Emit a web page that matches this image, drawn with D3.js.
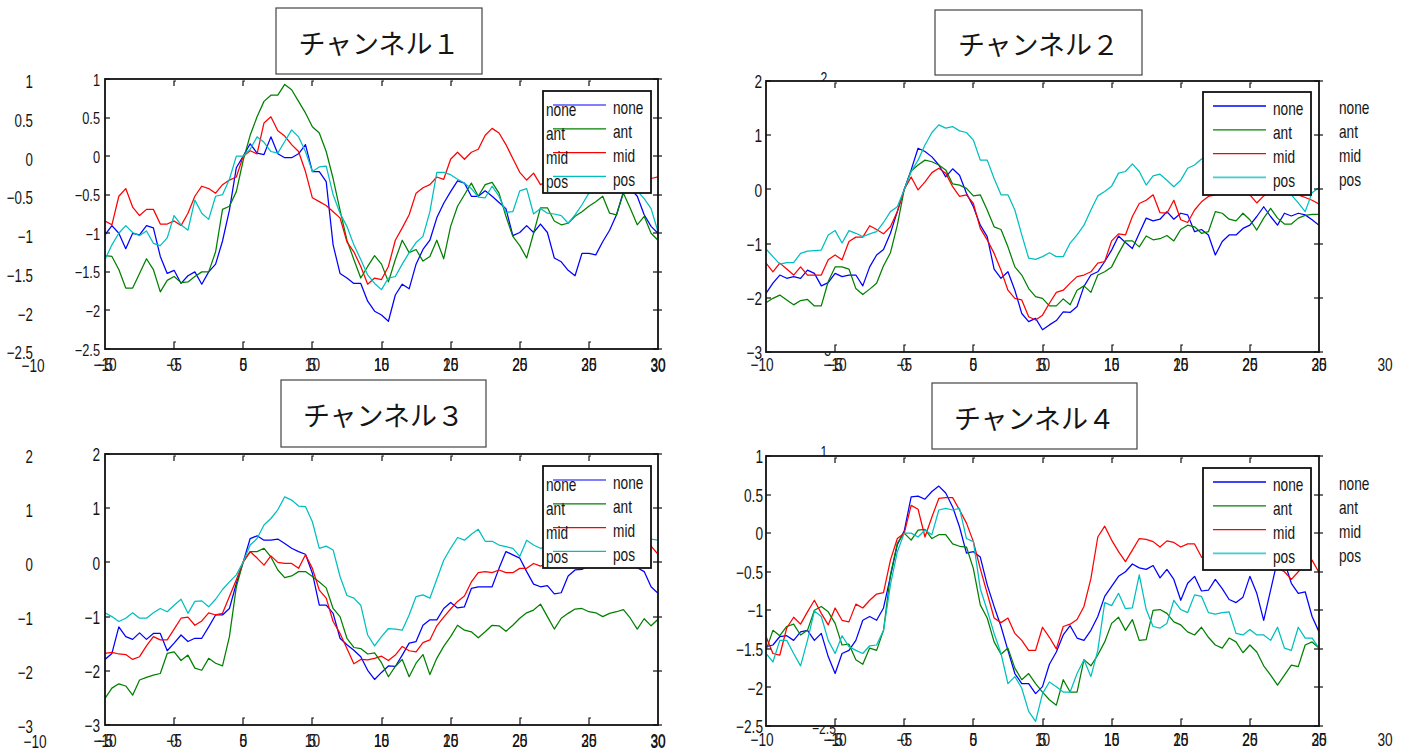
<!DOCTYPE html>
<html>
<head>
<meta charset="utf-8">
<script src="https://cdn.jsdelivr.net/npm/d3@7"></script>
<style>
  body { margin: 0; background: #fff; }
  text { font-family: "Liberation Sans", Arial, sans-serif; fill: #151515; }
  .title { font-family: "Noto Sans CJK JP", sans-serif; }
</style>
</head>
<body>
<svg id="chart" width="1413" height="755"></svg>
<script>
// ---- conditions and sampling ----
const conditions = ["none", "ant", "mid", "pos"];
const conditionColors = ["#0000ff", "#008000", "#ff0000", "#00bfbf"];
const sampleTimes = d3.range(-10, 30.25, 0.5); // 81 samples, -10 .. 30

// ---- channel 1 ----
const ch1None = [-1.02,-0.90,-1.00,-1.20,-1.00,-1.02,-0.90,-0.93,-1.30,-1.52,
  -1.48,-1.65,-1.55,-1.50,-1.66,-1.50,-1.40,-1.10,-0.70,-0.15,
  0.00,0.16,0.04,0.02,0.25,0.03,-0.02,-0.02,0.03,0.15,
  -0.20,-0.20,-0.33,-1.15,-1.52,-1.58,-1.65,-1.65,-1.88,-2.01,
  -2.06,-2.14,-1.80,-1.66,-1.72,-1.40,-1.21,-1.09,-0.80,-0.61,
  -0.46,-0.32,-0.35,-0.52,-0.52,-0.45,-0.52,-0.60,-0.68,-1.03,
  -0.99,-0.90,-0.99,-0.88,-0.99,-1.32,-1.37,-1.48,-1.55,-1.26,
  -1.26,-1.28,-1.11,-0.96,-0.76,-0.46,-0.42,-0.52,-0.76,-0.91,
  -1.00];
const ch1Ant = [-1.29,-1.30,-1.47,-1.71,-1.71,-1.52,-1.33,-1.47,-1.76,-1.61,
  -1.56,-1.64,-1.63,-1.56,-1.50,-1.50,-1.24,-0.69,-0.65,-0.46,
  -0.05,0.27,0.51,0.71,0.79,0.79,0.93,0.86,0.71,0.56,
  0.38,0.30,0.06,-0.29,-0.70,-1.09,-1.34,-1.58,-1.43,-1.29,
  -1.40,-1.63,-1.34,-1.09,-1.25,-1.21,-1.36,-1.30,-1.09,-1.33,
  -0.91,-0.65,-0.50,-0.35,-0.52,-0.37,-0.34,-0.48,-0.78,-1.04,
  -1.16,-1.32,-1.00,-0.67,-0.67,-0.84,-0.89,-0.87,-0.78,-0.72,
  -0.65,-0.59,-0.52,-0.74,-0.76,-0.48,-0.68,-0.89,-0.78,-1.00,
  -1.09];
const ch1Mid = [-0.84,-0.89,-0.52,-0.42,-0.66,-0.77,-0.69,-0.69,-0.88,-0.88,
  -0.84,-0.90,-0.74,-0.52,-0.39,-0.42,-0.48,-0.37,-0.31,-0.27,
  0.00,0.07,0.03,0.43,0.51,0.33,0.26,0.15,0.06,-0.20,
  -0.54,-0.59,-0.64,-0.72,-0.80,-1.11,-1.24,-1.43,-1.66,-1.58,
  -1.60,-1.43,-1.09,-0.93,-0.76,-0.48,-0.41,-0.37,-0.27,-0.30,
  -0.04,0.05,-0.04,0.05,0.09,0.27,0.36,0.30,0.15,-0.03,
  -0.21,-0.31,-0.22,-0.37,-0.32,-0.28,-0.33,-0.30,-0.25,-0.30,
  -0.28,-0.32,-0.27,-0.30,-0.25,-0.30,-0.28,-0.33,-0.30,-0.29,
  -0.27];
const ch1Pos = [-1.34,-1.15,-1.00,-0.90,-0.99,-1.03,-0.97,-1.13,-1.16,-1.06,
  -0.77,-0.89,-0.96,-0.57,-0.74,-0.82,-0.52,-0.50,-0.30,0.00,
  0.00,0.09,0.25,0.18,0.06,0.04,0.19,0.34,0.25,0.06,
  -0.20,-0.14,-0.13,-0.50,-0.74,-0.91,-1.15,-1.34,-1.54,-1.65,
  -1.73,-1.58,-1.56,-1.40,-1.25,-1.12,-1.04,-0.72,-0.21,-0.21,
  -0.24,-0.30,-0.35,-0.42,-0.53,-0.54,-0.39,-0.52,-0.73,-0.72,
  -0.45,-0.42,-0.75,-0.68,-0.74,-0.75,-0.77,-0.87,-0.76,-0.63,
  -0.48,-0.40,-0.35,-0.40,-0.45,-0.35,-0.30,-0.45,-0.55,-0.68,
  -0.98];

// ---- channel 2 ----
const ch2None = [-1.92,-1.73,-1.58,-1.64,-1.61,-1.64,-1.49,-1.55,-1.78,-1.72,
  -1.55,-1.61,-1.58,-1.58,-1.78,-1.43,-1.21,-1.11,-0.81,-0.41,
  0.00,0.36,0.76,0.70,0.60,0.45,0.23,0.38,0.26,-0.07,
  -0.32,-0.66,-0.87,-1.47,-1.64,-1.52,-1.86,-2.29,-2.44,-2.38,
  -2.59,-2.50,-2.42,-2.26,-2.27,-2.16,-1.79,-1.58,-1.52,-1.33,
  -1.12,-0.86,-0.98,-1.09,-0.81,-0.53,-0.58,-0.55,-0.41,-0.55,
  -0.44,-0.47,-0.78,-0.74,-0.84,-1.21,-0.96,-0.84,-0.84,-0.72,
  -0.66,-0.50,-0.32,-0.50,-0.66,-0.44,-0.49,-0.44,-0.47,-0.56,
  -0.66];
const ch2Ant = [-2.09,-2.01,-1.95,-2.04,-2.13,-2.05,-2.03,-2.15,-2.15,-1.70,
  -1.43,-1.43,-1.47,-1.83,-1.94,-1.84,-1.73,-1.41,-1.17,-0.66,
  0.00,0.34,0.45,0.54,0.51,0.45,0.36,0.10,0.08,0.02,
  -0.12,-0.10,-0.38,-0.69,-0.74,-1.06,-1.43,-1.58,-1.83,-1.98,
  -2.01,-2.15,-2.15,-2.02,-2.13,-1.86,-1.78,-1.90,-1.58,-1.52,
  -1.43,-1.18,-0.95,-0.95,-1.06,-0.86,-0.93,-0.91,-0.85,-0.95,
  -0.74,-0.66,-0.69,-0.81,-0.78,-0.41,-0.44,-0.55,-0.58,-0.44,
  -0.56,-0.75,-0.53,-0.35,-0.53,-0.64,-0.64,-0.53,-0.48,-0.46,
  -0.46];
const ch2Mid = [-1.36,-1.52,-1.36,-1.47,-1.58,-1.43,-1.58,-1.58,-1.58,-1.30,
  -1.21,-1.30,-0.96,-0.88,-0.88,-0.67,-0.74,-0.82,-0.69,-0.41,
  0.00,0.23,-0.01,0.14,0.31,0.39,0.30,0.05,-0.13,-0.10,
  -0.26,-0.72,-0.93,-1.18,-1.49,-1.86,-2.01,-2.04,-2.35,-2.41,
  -2.32,-2.10,-1.90,-1.86,-1.73,-1.61,-1.58,-1.52,-1.36,-1.33,
  -0.95,-0.82,-0.84,-0.50,-0.26,-0.20,-0.10,-0.43,-0.44,-0.20,
  -0.56,-0.61,-0.38,-0.23,-0.13,-0.10,-0.05,0.00,0.00,-0.05,
  -0.10,-0.25,-0.12,-0.05,0.00,-0.05,-0.10,-0.10,-0.15,-0.20,
  -0.27];
const ch2Pos = [-1.10,-1.24,-1.38,-1.35,-1.35,-1.18,-1.14,-1.13,-1.12,-0.84,
  -0.76,-0.99,-0.76,-0.81,-0.87,-0.82,-0.78,-0.61,-0.41,-0.32,
  0.00,0.33,0.54,0.82,1.05,1.19,1.13,1.16,1.08,1.05,
  0.91,0.54,0.54,0.20,-0.10,-0.10,-0.38,-0.84,-1.27,-1.29,
  -1.24,-1.17,-1.24,-1.24,-0.99,-0.84,-0.66,-0.38,-0.12,-0.04,
  0.06,0.30,0.33,0.47,0.33,0.08,0.25,0.28,0.17,0.05,
  0.17,0.39,0.45,0.56,0.60,0.62,0.58,0.50,0.55,0.60,
  0.50,0.42,0.35,0.25,0.15,0.05,-0.10,-0.25,-0.41,-0.06,
  0.03];

// ---- channel 3 ----
const ch3None = [-1.79,-1.68,-1.19,-1.37,-1.42,-1.30,-1.42,-1.31,-1.31,-1.63,
  -1.49,-1.34,-1.46,-1.40,-1.40,-1.19,-0.97,-0.97,-0.85,-0.39,
  0.01,0.44,0.49,0.41,0.41,0.43,0.35,0.26,0.20,0.15,
  -0.20,-0.79,-0.79,-0.94,-1.40,-1.52,-1.62,-1.74,-1.99,-2.16,
  -2.03,-1.91,-1.92,-1.71,-1.49,-1.46,-1.16,-1.06,-1.06,-0.85,
  -0.74,-0.84,-0.82,-0.48,-0.45,-0.45,-0.45,-0.11,0.20,0.14,
  0.08,-0.17,-0.40,-0.45,-0.43,-0.58,-0.56,-0.25,-0.14,-0.13,
  -0.05,0.00,0.05,0.10,0.05,0.00,-0.05,-0.10,-0.17,-0.45,
  -0.57];
const ch3Ant = [-2.51,-2.32,-2.24,-2.28,-2.45,-2.17,-2.12,-2.08,-2.05,-1.68,
  -1.65,-1.81,-1.71,-1.95,-1.99,-1.77,-1.86,-1.91,-1.37,-0.45,
  0.01,0.20,0.20,0.26,0.10,-0.14,-0.28,-0.25,-0.17,-0.17,
  -0.26,-0.36,-0.47,-0.85,-1.00,-1.40,-1.57,-1.59,-1.69,-1.67,
  -1.85,-2.11,-1.92,-1.79,-2.11,-1.86,-1.70,-2.07,-1.77,-1.55,
  -1.37,-1.16,-1.25,-1.28,-1.39,-1.28,-1.16,-1.17,-1.27,-1.16,
  -1.03,-0.93,-0.88,-0.77,-1.00,-1.23,-1.03,-0.94,-0.86,-0.85,
  -0.91,-0.93,-1.00,-0.94,-0.91,-0.87,-1.03,-1.23,-1.04,-1.17,
  -1.05];
const ch3Mid = [-1.68,-1.66,-1.69,-1.70,-1.79,-1.74,-1.54,-1.37,-1.43,-1.43,
  -1.23,-1.03,-1.01,-1.16,-1.08,-0.93,-0.97,-0.94,-0.63,-0.32,
  0.01,0.20,0.08,-0.05,0.12,0.00,-0.02,-0.02,-0.11,0.14,
  -0.11,-0.51,-0.66,-1.09,-1.31,-1.59,-1.87,-1.79,-1.80,-1.77,
  -1.73,-1.81,-1.71,-1.55,-1.63,-1.65,-1.48,-1.43,-1.17,-1.01,
  -0.86,-0.72,-0.62,-0.36,-0.19,-0.17,-0.19,-0.14,-0.19,-0.19,
  -0.11,-0.11,-0.02,-0.07,-0.02,0.00,0.00,0.05,0.05,0.05,
  0.10,0.10,0.15,0.15,0.20,0.25,0.30,0.40,0.45,0.30,
  0.15];
const ch3Pos = [-0.93,-1.00,-1.09,-1.03,-0.93,-1.03,-1.03,-0.93,-0.85,-0.91,
  -0.79,-0.68,-0.94,-0.72,-0.71,-0.82,-0.68,-0.50,-0.36,-0.23,
  0.01,0.32,0.44,0.69,0.81,0.97,1.21,1.15,1.04,1.03,
  0.75,0.26,0.30,0.23,-0.26,-0.61,-0.66,-0.79,-1.34,-1.54,
  -1.37,-1.22,-1.23,-1.25,-0.97,-0.63,-0.60,-0.66,-0.31,0.04,
  0.26,0.46,0.41,0.52,0.61,0.39,0.39,0.32,0.29,0.26,
  0.11,0.41,0.32,0.26,0.30,0.35,0.40,0.45,0.45,0.50,
  0.50,0.50,0.45,0.45,0.45,0.45,0.45,0.45,0.45,0.43,
  0.41];

// ---- channel 4 ----
const ch4None = [-1.47,-1.45,-1.34,-1.33,-1.39,-1.28,-1.26,-1.39,-1.30,-1.60,
  -1.82,-1.56,-1.52,-1.39,-1.13,-1.08,-1.13,-0.97,-0.56,-0.15,
  0.03,0.47,0.48,0.44,0.54,0.61,0.52,0.34,0.08,-0.26,
  -0.24,-0.31,-0.67,-0.95,-1.21,-1.52,-1.82,-1.95,-1.95,-2.08,
  -1.99,-1.70,-1.54,-1.32,-1.20,-1.36,-1.39,-1.26,-1.08,-0.82,
  -0.69,-0.56,-0.50,-0.40,-0.45,-0.47,-0.42,-0.58,-0.47,-0.60,
  -0.87,-0.65,-0.56,-0.75,-0.74,-0.60,-0.72,-0.86,-0.90,-0.83,
  -0.56,-0.78,-1.13,-0.74,-0.35,-0.37,-0.65,-0.78,-0.76,-1.08,
  -1.28];
const ch4Ant = [-1.52,-1.26,-1.33,-1.21,-1.18,-1.32,-1.26,-1.00,-0.95,-1.02,
  -1.17,-1.45,-1.44,-1.64,-1.70,-1.49,-1.52,-1.26,-0.54,-0.13,
  0.00,-0.09,0.04,0.05,-0.07,-0.02,-0.02,-0.14,-0.17,-0.18,
  -0.46,-0.93,-1.10,-1.41,-1.57,-1.49,-1.75,-1.90,-1.82,-1.95,
  -2.06,-2.16,-2.23,-1.90,-2.06,-2.06,-1.64,-1.72,-1.58,-1.41,
  -1.17,-1.09,-1.26,-1.12,-1.39,-1.38,-1.00,-0.99,-1.04,-1.15,
  -1.19,-1.28,-1.32,-1.22,-1.35,-1.45,-1.49,-1.36,-1.41,-1.55,
  -1.45,-1.54,-1.72,-1.84,-1.97,-1.84,-1.71,-1.73,-1.45,-1.41,
  -1.49];
const ch4Mid = [-1.34,-1.56,-1.58,-1.23,-1.09,-1.18,-1.02,-0.87,-1.04,-1.19,
  -0.97,-1.13,-1.15,-0.92,-0.97,-0.87,-0.79,-0.77,-0.35,-0.07,
  0.00,0.36,0.31,-0.05,0.21,0.45,0.46,0.46,0.30,0.13,
  -0.11,-0.46,-0.78,-1.10,-1.16,-1.10,-1.30,-1.39,-1.52,-1.52,
  -1.22,-1.35,-1.50,-1.21,-1.18,-1.12,-0.95,-0.59,-0.05,0.09,
  -0.09,-0.24,-0.37,-0.22,-0.07,-0.08,-0.11,-0.18,-0.10,-0.12,
  -0.18,-0.14,-0.14,-0.31,-0.35,-0.40,-0.38,-0.35,-0.30,-0.35,
  -0.40,-0.35,-0.30,-0.38,-0.45,-0.50,-0.60,-0.50,-0.40,-0.35,
  -0.51];
const ch4Pos = [-1.56,-1.67,-1.39,-1.39,-1.56,-1.72,-1.39,-1.01,-1.08,-1.39,
  -1.56,-1.33,-1.47,-1.52,-1.56,-1.46,-1.45,-1.26,-0.67,-0.24,
  0.00,0.00,-0.05,0.04,-0.02,0.30,0.32,0.30,0.32,-0.07,
  -0.11,-0.72,-1.00,-1.30,-1.56,-1.95,-1.86,-2.01,-2.31,-2.44,
  -2.08,-1.93,-1.99,-2.06,-2.06,-1.82,-1.64,-1.86,-1.52,-0.90,
  -0.94,-0.78,-0.98,-0.97,-0.54,-0.99,-1.21,-1.23,-1.17,-0.87,
  -0.99,-1.03,-0.80,-0.82,-1.03,-1.05,-1.03,-1.02,-1.30,-1.32,
  -1.25,-1.32,-1.32,-1.39,-1.22,-1.49,-1.52,-1.22,-1.36,-1.36,
  -1.49];

// ---- tick labels ----
const yTicksCh1 = [-2.5, -2, -1.5, -1, -0.5, 0, 0.5, 1];
const yTicksCh2 = [-3, -2, -1, 0, 1, 2];
const yTicksCh3 = [-3, -2, -1, 0, 1, 2];
const yTicksCh4 = [-2.5, -2, -1.5, -1, -0.5, 0, 0.5, 1];
const xTicksMain = [-10, -5, 0, 5, 10, 15, 20, 25, 30];
const xTicksShift = [-5, 0, 5, 10, 15, 20, 25, 30];
const xTicksLag = [-10, -5, 0, 5, 10, 15, 20, 25];
const xOuterEnds = [-10, 30];
const titles = ["チャンネル１", "チャンネル２", "チャンネル３", "チャンネル４"];

// ---- layout of the four figure panels ----
const panels = [
  { title: titles[0], series: [ch1None, ch1Ant, ch1Mid, ch1Pos], yTicks: yTicksCh1,
    box: { left: 105, right: 658, top: 79, bottom: 349 },
    titleBox: { x: 276, y: 8, w: 206, h: 66 },
    legend: { x: 543, y: 91, w: 108, h: 102 }, right: false,
    yLab: { x: 100, fs: 16, sx: 0.8 },
    outerY: { x: 33, top: 82, bottom: 353 },
    xSets: [{ ticks: xTicksMain, domain: [-10, 30] }, { ticks: xTicksShift, domain: [-5, 35] }],
    xLabelY: 365, outerX: { left: 33, right: 658, y: 366 } },
  { title: titles[1], series: [ch2None, ch2Ant, ch2Mid, ch2Pos], yTicks: yTicksCh2,
    box: { left: 766, right: 1319, top: 81, bottom: 352 },
    titleBox: { x: 935, y: 10, w: 207, h: 65 },
    legend: { x: 1203, y: 92, w: 108, h: 103 }, right: true,
    yLab: { x: 762, fs: 18, sx: 0.76 },
    ghostY: { x: 824, top: 78, bottom: 350 },
    xSets: [{ ticks: xTicksShift, domain: [-10, 30] }, { ticks: xTicksLag, domain: [-15, 25] }],
    xLabelY: 365, outerX: { left: 762, right: 1385, y: 365 } },
  { title: titles[2], series: [ch3None, ch3Ant, ch3Mid, ch3Pos], yTicks: yTicksCh3,
    box: { left: 105, right: 658, top: 454, bottom: 725 },
    titleBox: { x: 281, y: 380, w: 205, h: 67 },
    legend: { x: 543, y: 466, w: 108, h: 102 }, right: false,
    yLab: { x: 100, fs: 18, sx: 0.76 },
    outerY: { x: 33, top: 457, bottom: 727 },
    xSets: [{ ticks: xTicksMain, domain: [-10, 30] }, { ticks: xTicksShift, domain: [-5, 35] }],
    xLabelY: 741, outerX: { left: 35, right: 658, y: 742 } },
  { title: titles[3], series: [ch4None, ch4Ant, ch4Mid, ch4Pos], yTicks: yTicksCh4,
    box: { left: 766, right: 1319, top: 456, bottom: 726 },
    titleBox: { x: 932, y: 383, w: 205, h: 66 },
    legend: { x: 1203, y: 468, w: 108, h: 102 }, right: true,
    yLab: { x: 763, fs: 18, sx: 0.76 },
    ghostY: { x: 824, top: 452, bottom: 728 },
    ghostTitleDigit: { x: 1132, y: 434, text: "4" },
    xSets: [{ ticks: xTicksShift, domain: [-10, 30] }, { ticks: xTicksLag, domain: [-15, 25] }],
    xLabelY: 740, outerX: { left: 762, right: 1385, y: 740 } }
];

const svg = d3.select("#chart");
const fmt = d3.format("");

function label(g, x, y, str, o = {}) {
  return g.append("text")
    .attr("transform", `translate(${x},${y}) scale(${o.sx ?? 0.76},1)`)
    .attr("text-anchor", o.anchor || "middle")
    .attr("dominant-baseline", "central")
    .style("font-size", (o.fs || 18) + "px")
    .text(str);
}

panels.forEach((p, pi) => {
  const g = svg.append("g");
  const b = p.box;
  const yMin = d3.min(p.yTicks), yMax = d3.max(p.yTicks);
  const x = d3.scaleLinear().domain([-10, 30]).range([b.left, b.right]);
  const y = d3.scaleLinear().domain([yMin, yMax]).range([b.bottom, b.top]);

  // faint leftover axis labels peeking around the plot frame
  if (p.ghostY) {
    const gy = d3.scaleLinear().domain([yMin, yMax]).range([p.ghostY.bottom, p.ghostY.top]);
    [yMin, yMax].forEach(v => label(g, p.ghostY.x, gy(v), fmt(v), { fs: 16, sx: 0.76 }));
  }
  if (p.ghostTitleDigit) {
    const d = p.ghostTitleDigit;
    label(g, d.x, d.y, d.text, { fs: 17, sx: 0.8 });
  }

  // plot background
  g.append("rect").attr("x", b.left).attr("y", b.top)
    .attr("width", b.right - b.left).attr("height", b.bottom - b.top)
    .attr("fill", "#fff");

  // series
  const clipId = "clip" + pi;
  g.append("clipPath").attr("id", clipId).append("rect")
    .attr("x", b.left).attr("y", b.top)
    .attr("width", b.right - b.left).attr("height", b.bottom - b.top);
  const line = d3.line().x((d, i) => x(sampleTimes[i])).y(d => y(d));
  const lines = g.append("g").attr("clip-path", `url(#${clipId})`);
  p.series.forEach((s, k) => {
    lines.append("path").attr("d", line(s))
      .attr("fill", "none").attr("stroke", conditionColors[k])
      .attr("stroke-width", 1.25).attr("stroke-linejoin", "round");
  });

  // frame
  g.append("rect").attr("x", b.left).attr("y", b.top)
    .attr("width", b.right - b.left).attr("height", b.bottom - b.top)
    .attr("fill", "none").attr("stroke", "#111").attr("stroke-width", 1.8);

  // x ticks on top and bottom edges
  const tickG = g.append("g").attr("stroke", "#111").attr("stroke-width", 1.2).attr("fill", "none");
  xTicksMain.slice(1, -1).forEach(v => {
    const xx = Math.round(x(v));
    tickG.append("path").attr("d", `M${xx + 2},${b.top + 2}H${xx}V${b.top + 7}`);
    tickG.append("path").attr("d", `M${xx + 2},${b.bottom - 7}H${xx}V${b.bottom}`);
  });
  // y ticks on left (inward) and right (crossing) edges
  p.yTicks.forEach(v => {
    const yy = Math.round(y(v));
    tickG.append("path").attr("d", `M${b.left},${yy}H${b.left + 5}`);
    tickG.append("path").attr("d", `M${b.right - 5},${yy}H${b.right + 4}`);
  });

  // y tick labels
  p.yTicks.forEach(v => label(g, p.yLab.x, y(v) + 1, fmt(v), { anchor: "end", fs: p.yLab.fs, sx: p.yLab.sx }));
  if (p.outerY) {
    const oy = d3.scaleLinear().domain([yMin, yMax]).range([p.outerY.bottom, p.outerY.top]);
    p.yTicks.forEach(v => label(g, p.outerY.x, oy(v), fmt(v), { anchor: "end", fs: 18, sx: 0.74 }));
  }

  // x tick labels: two overlapping label sets on the same tick grid
  p.xSets.forEach(set => {
    const sx = d3.scaleLinear().domain(set.domain).range([b.left, b.right]);
    set.ticks.forEach(v => label(g, sx(v), p.xLabelY, fmt(v), { fs: 18, sx: 0.76 }));
  });
  const ox = d3.scaleLinear().domain([-10, 30]).range([p.outerX.left, p.outerX.right]);
  xOuterEnds.forEach(v => label(g, ox(v), p.outerX.y, fmt(v), { fs: 18, sx: 0.76 }));

  // legend
  const L = p.legend;
  const lg = g.append("g");
  lg.append("rect").attr("x", L.x).attr("y", L.y).attr("width", L.w).attr("height", L.h)
    .attr("fill", "#fff").attr("stroke", "#111").attr("stroke-width", 1.8);
  conditions.forEach((c, k) => {
    const ly = L.y + 14 + k * 23.8;
    lg.append("line").attr("x1", L.x + 10).attr("x2", L.x + 63)
      .attr("y1", ly).attr("y2", ly)
      .attr("stroke", conditionColors[k]).attr("stroke-width", p.right && (k === 0 || k === 3) ? 1.8 : 1.2)
      .attr("stroke-opacity", p.right && (k === 0 || k === 3) ? 0.75 : 1);
    label(lg, L.x + 70, ly + 3, c, { anchor: "start", fs: 18, sx: 0.76 });
    if (!p.right) {
      label(lg, L.x + 3, ly + 5, c, { anchor: "start", fs: 18, sx: 0.76 });
    } else {
      label(g, 1339, ly + 2, c, { anchor: "start", fs: 18, sx: 0.76 });
    }
  });

  // title box
  const T = p.titleBox;
  g.append("rect").attr("x", T.x).attr("y", T.y).attr("width", T.w).attr("height", T.h)
    .attr("fill", "#fff").attr("stroke", "#444").attr("stroke-width", 1.2);
  g.append("text").attr("class", "title")
    .attr("x", T.x + T.w / 2).attr("y", T.y + T.h / 2 + 1)
    .attr("text-anchor", "middle").attr("dominant-baseline", "central")
    .style("font-size", "27px").text(p.title);
});
</script>
</body>
</html>
